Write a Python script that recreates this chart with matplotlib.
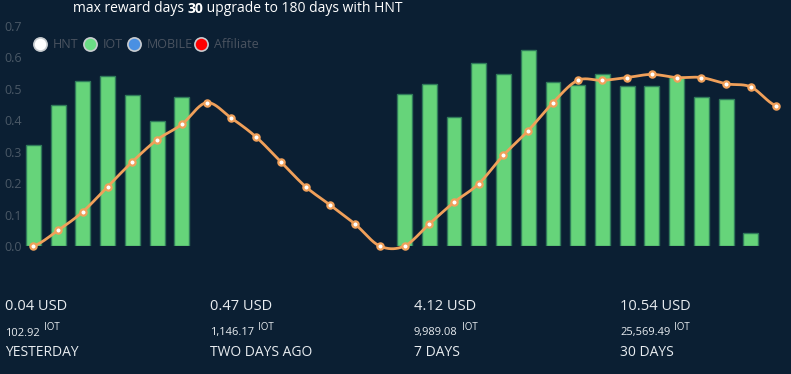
import numpy as np
import matplotlib
matplotlib.use("Agg")
import matplotlib.pyplot as plt
from matplotlib.lines import Line2D

plt.rcParams['font.family'] = ['Open Sans', 'Noto Sans', 'DejaVu Sans']

# ---- data ----
categories = list(range(31))
bar_values = [0.321, 0.448, 0.524, 0.541, 0.481, 0.397, 0.475,
              None, None, None, None, None, None, None, None,
              0.485, 0.517, 0.411, 0.581, 0.547, 0.624, 0.523, 0.513,
              0.547, 0.510, 0.510, 0.537, 0.475, 0.468, 0.042, None]
line_values = [0.0, 0.05, 0.109, 0.189, 0.268, 0.338, 0.387, 0.456,
               0.407, 0.347, 0.268, 0.189, 0.130, 0.070, 0.0,
               0.0, 0.070, 0.139, 0.198, 0.289, 0.367, 0.456, 0.527,
               0.527, 0.536, 0.546, 0.536, 0.536, 0.516, 0.506, 0.447]
y_ticks = [0.0, 0.1, 0.2, 0.3, 0.4, 0.5, 0.6, 0.7]
legend_labels = ["HNT", "IOT", "MOBILE", "Affiliate"]
legend_colors = ["#ffffff", "#6bdc85", "#4a90e2", "#ff0000"]
usd_values = ["0.04 USD", "0.47 USD", "4.12 USD", "10.54 USD"]
iot_values = ["102.92", "1,146.17", "9,989.08", "25,569.49"]
period_labels = ["YESTERDAY", "TWO DAYS AGO", "7 DAYS", "30 DAYS"]

BG = "#0b1f33"
W, H = 791, 374
fig = plt.figure(figsize=(W / 100, H / 100), dpi=100, facecolor=BG)
ax = fig.add_axes([21 / W, 1 - 246 / H, (788 - 21) / W, (246 - 26) / H])
ax.set_facecolor(BG)
renderer = fig.canvas.get_renderer()

xs = np.array(categories, dtype=float)
bx = [x for x, v in zip(categories, bar_values) if v is not None]
bv = [v for v in bar_values if v is not None]
ax.bar(bx, bv, width=0.6, color="#66d47a", edgecolor="#2f7a5a", linewidth=1.0, zorder=2)

# smooth rendering of the line (Catmull-Rom through data points)
ly = np.array(line_values)
px = np.concatenate([[xs[0]], xs, [xs[-1]]])
py = np.concatenate([[ly[0]], ly, [ly[-1]]])
sx, sy = [], []
t = np.linspace(0, 1, 20, endpoint=False)
for i in range(1, len(px) - 2):
    p0, p1, p2, p3 = py[i - 1], py[i], py[i + 1], py[i + 2]
    yy = 0.5 * ((2 * p1) + (-p0 + p2) * t + (2 * p0 - 5 * p1 + 4 * p2 - p3) * t ** 2
                + (-p0 + 3 * p1 - 3 * p2 + p3) * t ** 3)
    sx.extend(px[i] + t * (px[i + 1] - px[i]))
    sy.extend(yy)
sx.append(xs[-1]); sy.append(ly[-1])
ax.plot(sx, sy, color="#f0a05a", linewidth=2.0, zorder=3, clip_on=False)
ax.plot(xs, ly, linestyle="none", marker="o", markersize=4.5, markerfacecolor="#ffffff",
        markeredgecolor="#f0a05a", markeredgewidth=1.6, zorder=4, clip_on=False)

ax.set_xlim(-0.5, 30.5)
ax.set_ylim(0, 0.7)
ax.set_yticks(y_ticks)
ax.set_yticklabels([f"{v:.1f}" for v in y_ticks])
ax.set_xticks([])
ax.tick_params(axis='y', length=0, pad=12, labelsize=9, labelcolor="#4a5866")
for lab in ax.get_yticklabels():
    lab.set_horizontalalignment('left')
for s in ax.spines.values():
    s.set_visible(False)

# title
title_parts = [("max reward days ", "normal"), ("30", "bold"), (" upgrade to 180 days with HNT", "normal")]
xpos = 73
for txt, wt in title_parts:
    tt = fig.text(xpos / W, 1 - 9 / H, txt, color="white", fontsize=10, fontweight=wt, va="center", ha="left")
    bb = tt.get_window_extent(renderer)
    xpos += bb.width

# legend
leg_x = [40, 90, 134, 201]
for lx, lab, col in zip(leg_x, legend_labels, legend_colors):
    fig.add_artist(Line2D([lx / W], [1 - 44 / H], marker="o", markersize=9.5, markerfacecolor=col,
                          markeredgecolor="#c8ccd0", markeredgewidth=1.2, transform=fig.transFigure))
    fig.text((lx + 13) / W, 1 - 44 / H, lab, color="#4a5360", fontsize=9, va="center", ha="left")

# bottom summary
col_x = [5, 210, 414, 620]
for cx, usd, iot, per in zip(col_x, usd_values, iot_values, period_labels):
    fig.text(cx / W, 1 - 306 / H, usd, color="#e8ecf0", fontsize=10.5, va="center", ha="left")
    t2 = fig.text(cx / W, 1 - 333 / H, iot, color="#e8ecf0", fontsize=8, va="center", ha="left")
    bb = t2.get_window_extent(renderer)
    fig.text((cx + bb.width + 4) / W, 1 - 328 / H, "IOT", color="#e8ecf0", fontsize=7, va="center", ha="left")
    fig.text(cx / W, 1 - 353 / H, per, color="#e8ecf0", fontsize=10, va="center", ha="left")

fig.savefig("out.png", dpi=100, facecolor=BG)
